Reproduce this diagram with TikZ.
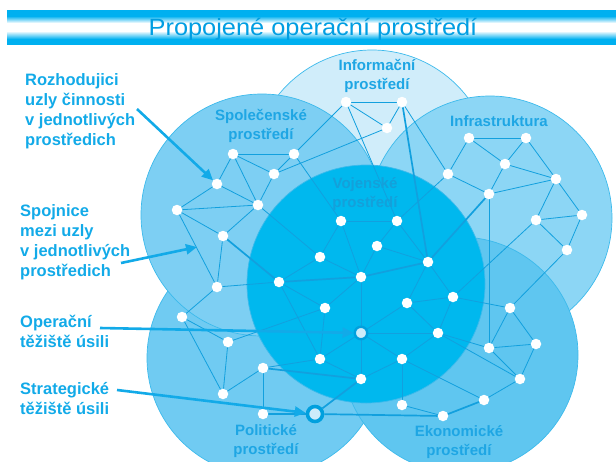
\documentclass[tikz,border=0pt]{standalone}
\usepackage{fontspec}
\setmainfont{Liberation Sans}
\usetikzlibrary{arrows.meta}
\definecolor{lbl}{RGB}{18,170,232}
\definecolor{tb}{RGB}{0,176,240}
\definecolor{titc}{RGB}{0,158,226}
\definecolor{cinfo}{RGB}{208,237,250}
\definecolor{cspol}{RGB}{125,207,243}
\definecolor{cinfra}{RGB}{140,214,245}
\definecolor{cpol}{RGB}{112,203,242}
\definecolor{ceko}{RGB}{95,198,240}
\definecolor{cvoj}{RGB}{0,184,238}
\definecolor{cedge}{RGB}{60,186,236}
\definecolor{link}{RGB}{18,160,222}
\definecolor{txtc}{RGB}{30,166,228}
\definecolor{txtv}{RGB}{20,160,218}
\definecolor{pale}{RGB}{205,236,250}
\definecolor{ring}{RGB}{0,160,222}
\pgfdeclarelayer{bg}
\pgfsetlayers{bg,main}
\tikzset{
  dot/.style={circle,fill=white,inner sep=0pt,minimum size=10.5pt},
  opdot/.style={circle,fill=pale,draw=ring,line width=2.4pt,inner sep=0pt,minimum size=12.5pt},
  stdot/.style={circle,fill=pale,draw=ring,line width=3.6pt,inner sep=0pt,minimum size=15pt},
  edge/.style={draw=link,line width=0.8pt},
  thickedge/.style={draw=link,line width=1.7pt},
  lab/.style={font=\bfseries\fontsize{16.5}{20}\selectfont,text=lbl,align=left,inner sep=0pt,anchor=north west},
  clab/.style={font=\bfseries\fontsize{15}{19.5}\selectfont,text=txtc,align=center,inner sep=0pt},
  arr/.style={draw=lbl,line width=2.6pt,-{Triangle[length=11pt,width=10pt]}},
  disc/.style={draw=cedge,line width=0.7pt}
}
\begin{document}
\begin{tikzpicture}[x=1pt,y=-1pt]
\useasboundingbox (0,0) rectangle (616,461);
\clip (0,0) rectangle (616,461);
\begin{pgfonlayer}{bg}
% title bar
\fill[tb] (7,10) rectangle (616,16);
\shade[top color=tb,bottom color=white] (7,16) rectangle (616,23);
\fill[white] (7,23) rectangle (616,31);
\shade[top color=white,bottom color=tb] (7,31) rectangle (616,39);
\fill[tb] (7,39) rectangle (616,45);
% environment discs
\filldraw[disc,fill=cinfo] (372,170) circle (120pt);
\filldraw[disc,fill=cpol] (265,358) circle (118pt);
\filldraw[disc,fill=cspol] (262,215) circle (121pt);
\filldraw[disc,fill=cinfra] (490,218) circle (122pt);
\filldraw[disc,fill=ceko] (460,355) circle (118pt);
\filldraw[disc,fill=cvoj] (366,284) circle (119pt);
\end{pgfonlayer}

\node[anchor=base,text=titc,font=\fontsize{23.5}{28}\selectfont,inner sep=0pt] (title) at (313,35) {\scalebox{1.08}[1]{Propojené operační prostředí}};

% circle labels
\node[clab] (lspol) at (261,126) {Společenské\\prostředí};
\node[clab] (linfo) at (377,76) {Informační\\prostředí};
\node[clab] (linfra) at (499,121) {Infrastruktura};
\node[clab,text=txtv] (lvoj) at (365,194) {Vojenské\\prostředí};
\node[clab] (lpol) at (266,441) {Politické\\prostředí};
\node[clab] (leko) at (459,442) {Ekonomické\\prostředí};

% nodes: Spolecenske
\node[dot] (s1) at (233,154) {};
\node[dot] (s2) at (294,154) {};
\node[dot] (s3) at (274,174) {};
\node[dot] (s4) at (217,184) {};
\node[dot] (s5) at (258,205) {};
\node[dot] (s6) at (177,210) {};
\node[dot] (s7) at (223,236) {};
\node[dot] (s8) at (217,287) {};
% Informacni
\node[dot] (i1) at (346,102) {};
\node[dot] (i2) at (402,102) {};
\node[dot] (i3) at (387,128) {};
% Infrastruktura
\node[dot] (n1) at (469,138) {};
\node[dot] (n2) at (526,138) {};
\node[dot] (n3) at (505,164) {};
\node[dot] (n4) at (448,174) {};
\node[dot] (n5) at (556,179) {};
\node[dot] (n6) at (489,194) {};
\node[dot] (n7) at (582,215) {};
\node[dot] (n8) at (536,220) {};
\node[dot] (n9) at (567,250) {};
% Vojenske
\node[dot] (v1) at (341,221) {};
\node[dot] (v2) at (397,221) {};
\node[dot] (v3) at (377,246) {};
\node[dot] (v4) at (320,257) {};
\node[dot] (v5) at (428,262) {};
\node[dot] (v6) at (279,282) {};
\node[dot] (v7) at (361,277) {};
\node[dot] (v8) at (407,303) {};
\node[dot] (v9) at (453,297) {};
\node[dot] (v10) at (325,308) {};
\node[opdot] (op) at (361,333) {};
\node[dot] (v11) at (438,333) {};
\node[dot] (v12) at (320,359) {};
\node[dot] (v13) at (402,359) {};
\node[dot] (v14) at (361,379) {};
% Politicke
\node[dot] (p1) at (182,317) {};
\node[dot] (p2) at (228,342) {};
\node[dot] (p3) at (263,368) {};
\node[dot] (p4) at (223,394) {};
\node[dot] (p5) at (263,414) {};
\node[stdot] (st) at (315,414) {};
% Ekonomicke
\node[dot] (e1) at (510,308) {};
\node[dot] (e2) at (536,344) {};
\node[dot] (e3) at (489,348) {};
\node[dot] (e4) at (520,379) {};
\node[dot] (e5) at (484,400) {};
\node[dot] (e6) at (402,405) {};
\node[dot] (e7) at (443,416) {};

\begin{pgfonlayer}{bg}
\foreach \a/\b in {s1/s2,s1/s3,s1/s4,s1/s5,s2/s3,s3/s5,s4/s5,s4/s6,s6/s5,s6/s7,s5/s7,s6/s8,s7/s8,s2/i1,s2/v1,s5/v4,s8/v6,p1/s8,
  i1/i2,i1/i3,i2/i3,i1/v2,i3/s3,i2/n4,
  n1/n2,n1/n4,n1/n3,n2/n3,n2/n5,n3/n5,n3/n6,n4/n6,n6/n5,n5/n7,n5/n8,n7/n8,n8/n9,n7/n9,n4/v2,n6/e3,n9/e1,n8/v9,
  v1/v2,v1/v4,v1/v7,v2/v3,v2/v5,v3/v7,v3/v5,v4/v6,v4/v7,v6/v10,v7/v10,v7/op,v5/v8,v5/v9,v8/v9,v8/v11,v9/v11,v8/op,op/v11,op/v12,op/v13,op/v14,v10/v12,v6/v12,v12/v14,v13/v14,v11/v13,v9/e1,v11/e3,v13/e5,v13/e6,
  p1/p2,p1/p4,p2/p4,p4/p3,p3/p5,p3/v12,p2/v10,
  e1/e2,e1/e3,e3/e2,e2/e4,e3/e4,e4/e5,e6/e7,e4/v11}
  \draw[edge] (\a) -- (\b);
\foreach \a/\b in {i2/v5,n6/v5,v6/v7,v7/v5,v14/st,p5/st,st/e7,s7/v6,p3/v14,e5/e7}
  \draw[thickedge] (\a) -- (\b);
\end{pgfonlayer}

% left labels
\node[lab] (t1) at (25,73) {Rozhodujici\\uzly činnosti\\v jednotlivých\\prostředich};
\node[lab] (t2) at (20,204) {Spojnice\\mezi uzly\\v jednotlivých\\prostředich};
\node[lab] (t3) at (20,315) {Operační\\těžiště úsili};
\node[lab] (t4) at (20,382) {Strategické\\těžiště úsili};

% arrows
\coordinate (a1s) at (137,109);
\coordinate (a2s) at (121,263);
\coordinate (a2e) at (197,247);
\coordinate (a3s) at (100,328);
\coordinate (a4s) at (117,390);
\draw[arr] (a1s) -- (s4);
\draw[arr] (a2s) -- (a2e);
\draw[arr] (a3s) -- (op);
\draw[arr] (a4s) -- (st);
\end{tikzpicture}
\end{document}
